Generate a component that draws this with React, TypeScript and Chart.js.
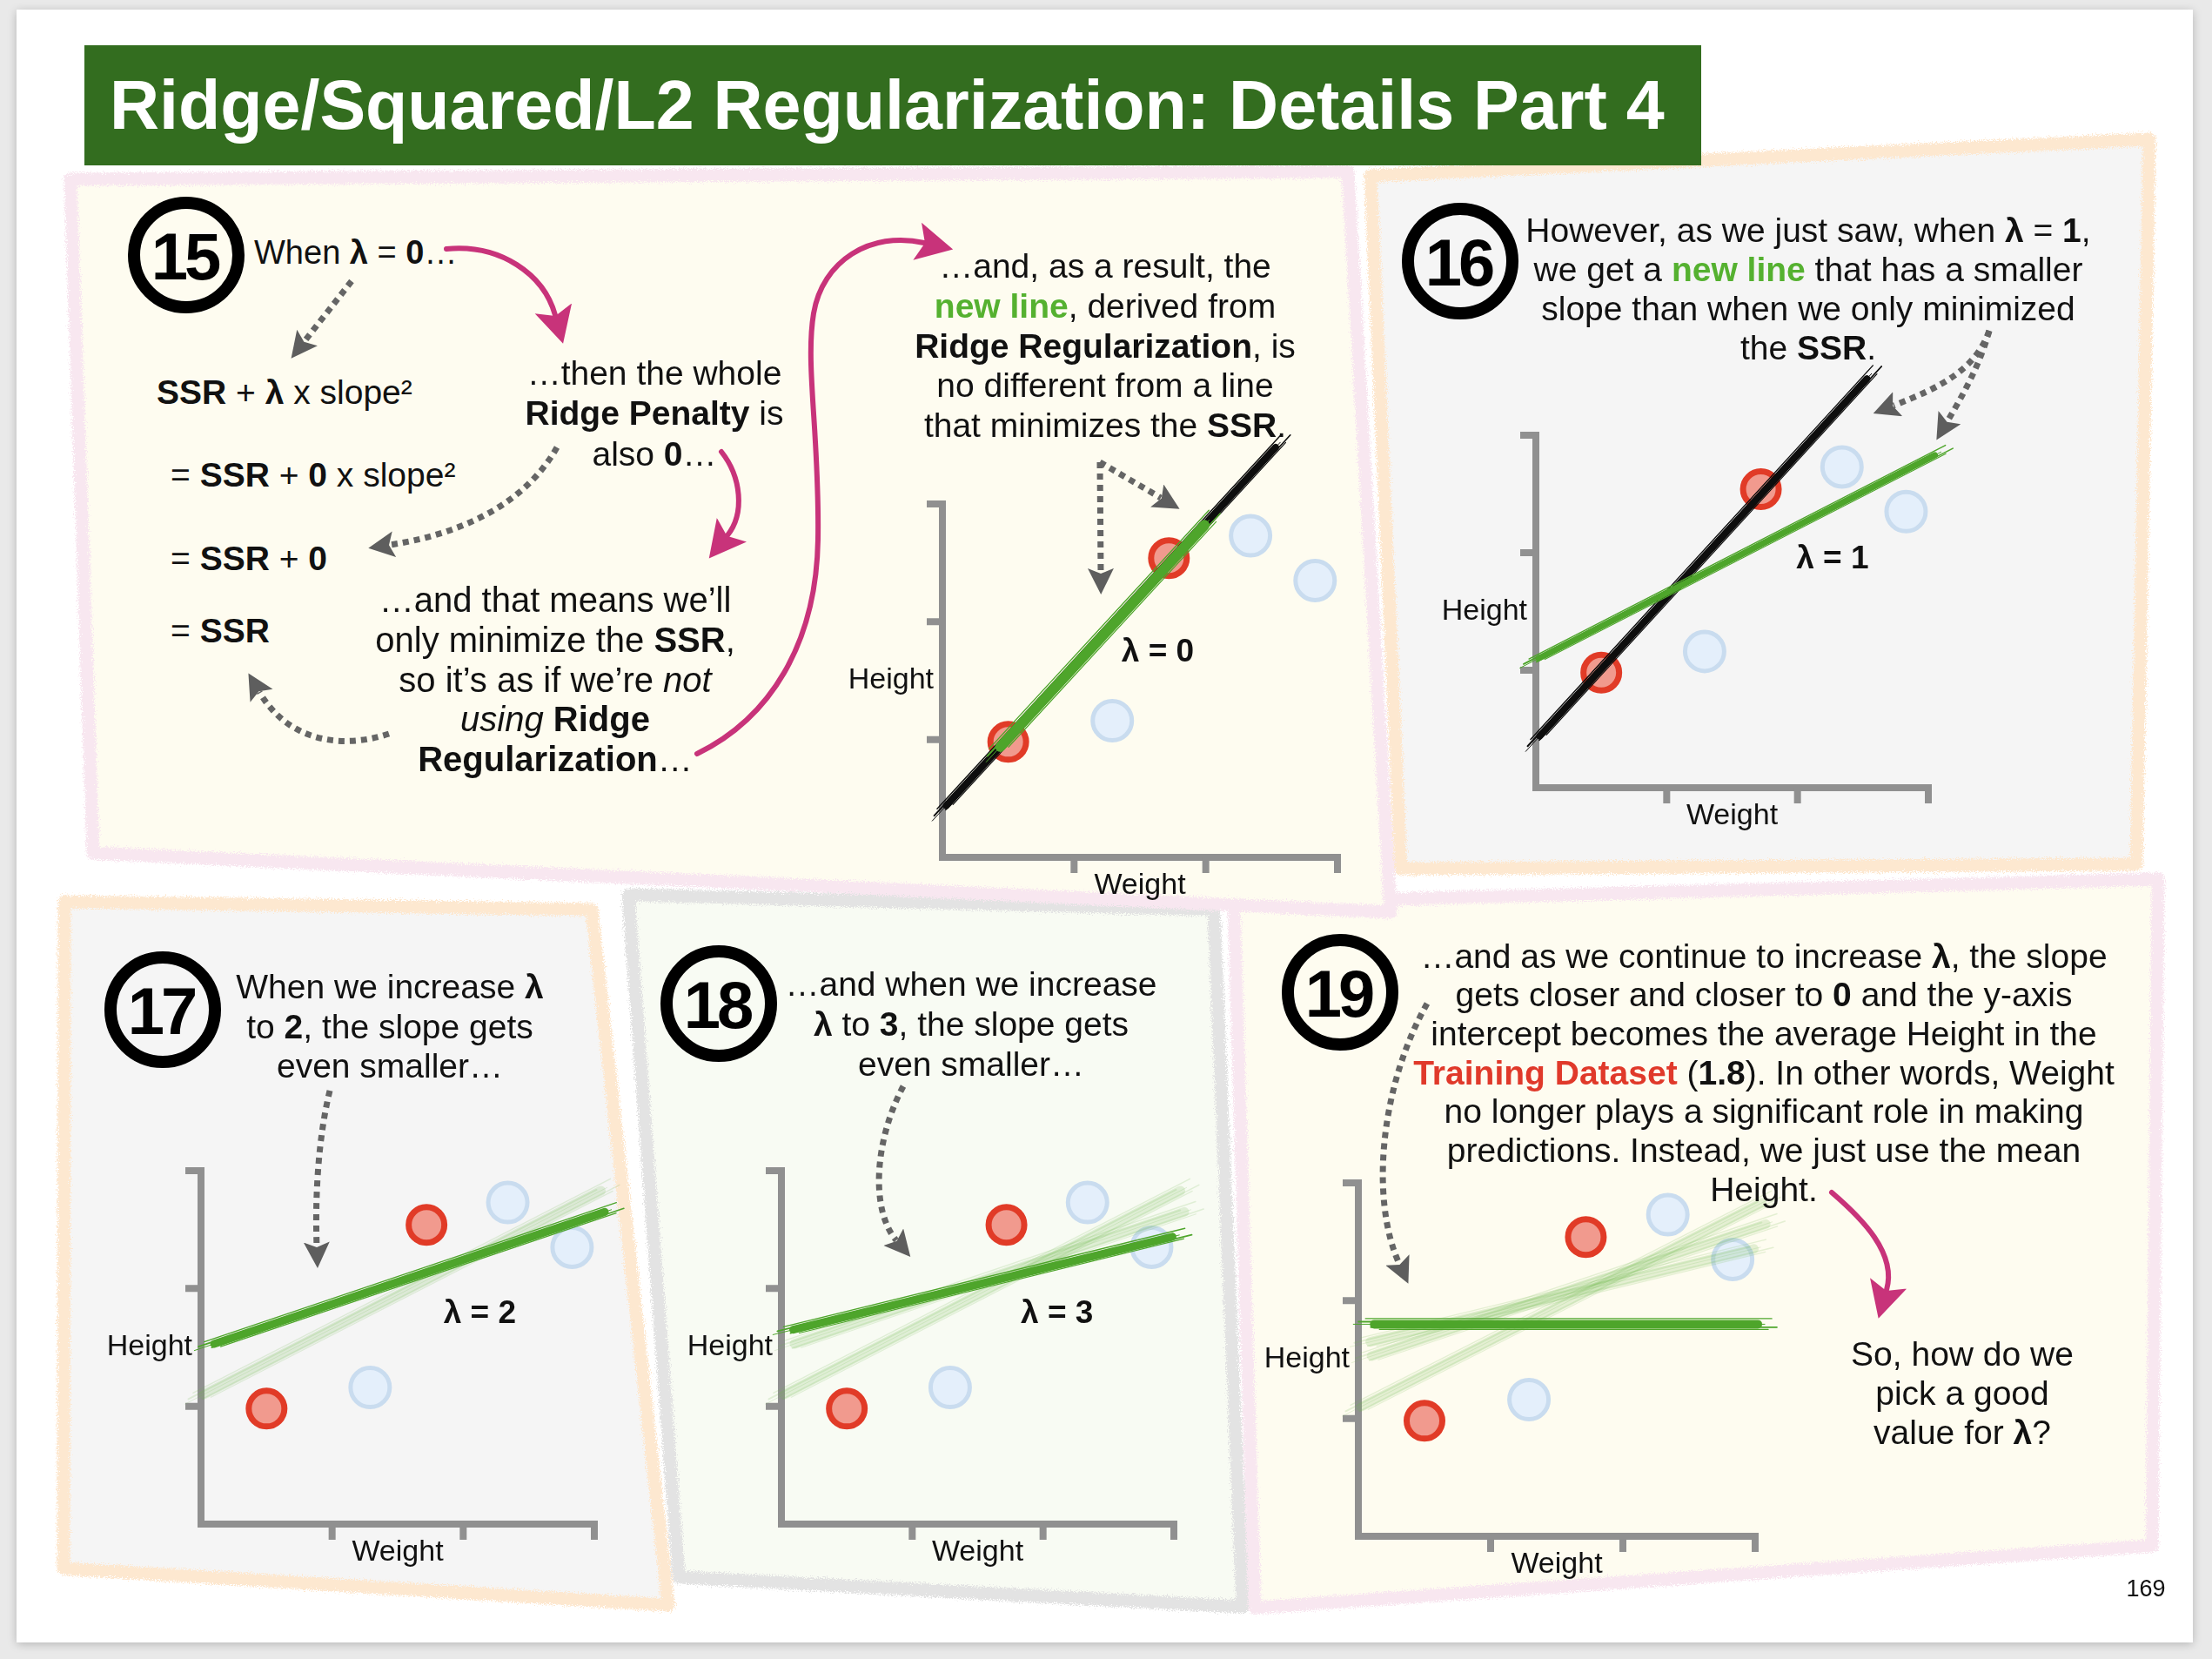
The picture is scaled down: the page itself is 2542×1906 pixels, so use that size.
import React, { useEffect, useRef } from 'react';
import { Chart, registerables } from 'chart.js';

Chart.register(...registerables);
if (typeof document !== 'undefined') document.body.style.margin = '0';

const FONT = "'Liberation Sans', Arial, Helvetica, sans-serif";

// ---------------- data ----------------
const TRAIN_WEIGHT = [0.5, 1.72];          // red points (training data)
const TRAIN_HEIGHT = [0.98, 2.54];
const TEST_WEIGHT = [1.29, 2.34, 2.83];    // blue points
const TEST_HEIGHT = [1.16, 2.73, 2.35];
const AXIS_RANGE = [0, 3];
const AXIS_TICKS = [1, 2, 3];

const LS_LINE_X = [0.03, 2.53];
const LS_LINE_Y = [0.44, 3.48];
const RIDGE0_X = [0.44, 1.99];
const RIDGE0_Y = [0.94, 2.82];
const RIDGE1_X = [0.02, 3.05];
const RIDGE1_Y = [1.1, 2.83];
const RIDGE2_X = [0.1, 3.08];
const RIDGE2_Y = [1.53, 2.65];
const RIDGE3_X = [0.09, 2.99];
const RIDGE3_Y = [1.65, 2.44];
const RIDGE_MAX_X = [0.12, 3.02];
const RIDGE_MAX_Y = [1.8, 1.8];

const LAMBDA_LABELS = ['λ = 0', 'λ = 1', 'λ = 2', 'λ = 3'];
const Y_TITLE = 'Height';
const X_TITLE = 'Weight';

// ---------------- styles / layout ----------------
const LINE_STYLES: any = {
  black: { color: '#0d0d0d', order: 2 },
  green: { color: '#4ea52b', order: 1 },
  pale: { color: 'rgba(110,185,80,0.18)', order: 3 },
};

type LineSpec = [string, number[], number[], number];
type ChartCfg = {
  id: number; x0: number; x3: number; y0: number; y3: number;
  lines: LineSpec[]; label: string | null; labelPos: number[];
};

const CHARTS: ChartCfg[] = [
  { id: 15, x0: 1083, x3: 1537, y0: 985, y3: 579,
    lines: [['black', LS_LINE_X, LS_LINE_Y, 8], ['green', RIDGE0_X, RIDGE0_Y, 12]],
    label: LAMBDA_LABELS[0], labelPos: [1.36, 1.74] },
  { id: 16, x0: 1765, x3: 2216, y0: 905, y3: 500,
    lines: [['black', LS_LINE_X, LS_LINE_Y, 8], ['green', RIDGE1_X, RIDGE1_Y, 7]],
    label: LAMBDA_LABELS[1], labelPos: [1.99, 1.94] },
  { id: 17, x0: 231, x3: 683, y0: 1751, y3: 1345,
    lines: [['pale', RIDGE1_X, RIDGE1_Y, 11], ['green', RIDGE2_X, RIDGE2_Y, 9]],
    label: LAMBDA_LABELS[2], labelPos: [1.85, 1.78] },
  { id: 18, x0: 898, x3: 1349, y0: 1751, y3: 1345,
    lines: [['pale', RIDGE1_X, RIDGE1_Y, 11], ['pale', RIDGE2_X, RIDGE2_Y, 11], ['green', RIDGE3_X, RIDGE3_Y, 9]],
    label: LAMBDA_LABELS[3], labelPos: [1.83, 1.78] },
  { id: 19, x0: 1561, x3: 2017, y0: 1765, y3: 1359,
    lines: [['pale', RIDGE1_X, RIDGE1_Y, 11], ['pale', RIDGE2_X, RIDGE2_Y, 11], ['pale', RIDGE3_X, RIDGE3_Y, 11], ['green', RIDGE_MAX_X, RIDGE_MAX_Y, 10]],
    label: null, labelPos: [0, 0] },
];

const AXIS_COLOR = '#909090';
const BRUSH_STROKES = [
  [-0.65, 1.4, 10, 16],
  [0.6, 1.2, -6, 12],
  [-0.3, 2.0, 18, -4],
  [0.35, 1.6, 4, 22],
  [0.0, 1.0, 24, 8],
];

function ScatterPanel({ cfg }: { cfg: ChartCfg }) {
  const ref = useRef<HTMLCanvasElement>(null);
  const left = cfg.x0 - 150;
  const top = cfg.y3 - 110;
  const w = cfg.x3 + 80 - left;
  const h = cfg.y0 + 65 - top;

  useEffect(() => {
    const canvas = ref.current;
    if (!canvas) return;
    const datasets: any[] = [];
    cfg.lines.forEach(([kind, xs, ys, width]) => {
      const st = LINE_STYLES[kind];
      datasets.push({
        data: xs.map((x, i) => ({ x, y: ys[i] })),
        showLine: true,
        borderColor: st.color,
        backgroundColor: st.color,
        borderWidth: width,
        borderCapStyle: 'round',
        pointRadius: 0,
        pointHoverRadius: 0,
        clip: false,
        order: st.order,
        brush: true,
      });
    });
    datasets.push({
      data: TRAIN_WEIGHT.map((x, i) => ({ x, y: TRAIN_HEIGHT[i] })),
      showLine: false,
      pointRadius: 20.5,
      pointHoverRadius: 20.5,
      borderWidth: 7,
      backgroundColor: '#f19a8e',
      borderColor: '#e13b27',
      clip: false,
      order: 10,
    });
    datasets.push({
      data: TEST_WEIGHT.map((x, i) => ({ x, y: TEST_HEIGHT[i] })),
      showLine: false,
      pointRadius: 22.5,
      pointHoverRadius: 22.5,
      borderWidth: 5,
      backgroundColor: '#e4effb',
      borderColor: '#c9dcef',
      clip: false,
      order: 11,
    });

    const axesPlugin = {
      id: 'sketchAxes',
      beforeDatasetsDraw(chart: any) {
        const { ctx, scales } = chart;
        const sx = scales.x, sy = scales.y;
        const x0 = sx.getPixelForValue(AXIS_RANGE[0]);
        const y0 = sy.getPixelForValue(AXIS_RANGE[0]);
        const xM = sx.getPixelForValue(AXIS_RANGE[1]);
        const yM = sy.getPixelForValue(AXIS_RANGE[1]);
        ctx.save();
        ctx.strokeStyle = AXIS_COLOR;
        ctx.lineWidth = 8;
        ctx.lineJoin = 'miter';
        ctx.lineCap = 'square';
        ctx.beginPath();
        ctx.moveTo(x0, yM);
        ctx.lineTo(x0, y0);
        ctx.lineTo(xM, y0);
        ctx.stroke();
        ctx.lineCap = 'butt';
        ctx.beginPath();
        AXIS_TICKS.forEach((t) => {
          const py = sy.getPixelForValue(t);
          ctx.moveTo(x0, py);
          ctx.lineTo(x0 - 18, py);
          const px = sx.getPixelForValue(t);
          ctx.moveTo(px, y0);
          ctx.lineTo(px, y0 + 18);
        });
        ctx.stroke();
        ctx.restore();
      },
    };

    const brushPlugin = {
      id: 'brush',
      afterDatasetDraw(chart: any, args: any) {
        const ds = chart.data.datasets[args.index];
        if (!ds.brush) return;
        const pts = args.meta.data;
        if (!pts || pts.length < 2) return;
        const a = pts[0], b = pts[pts.length - 1];
        const dx = b.x - a.x, dy = b.y - a.y;
        const len = Math.hypot(dx, dy) || 1;
        const ux = dx / len, uy = dy / len, nx = -uy, ny = ux;
        const wdt = ds.borderWidth;
        const ctx = chart.ctx;
        ctx.save();
        ctx.strokeStyle = ds.borderColor;
        ctx.lineCap = 'round';
        BRUSH_STROKES.forEach(([off, lw, s, e]) => {
          ctx.lineWidth = lw;
          ctx.beginPath();
          ctx.moveTo(a.x - ux * s + nx * off * wdt, a.y - uy * s + ny * off * wdt);
          ctx.lineTo(b.x + ux * e + nx * off * wdt, b.y + uy * e + ny * off * wdt);
          ctx.stroke();
        });
        ctx.restore();
      },
    };

    const textPlugin = {
      id: 'panelText',
      afterDatasetsDraw(chart: any) {
        const { ctx, scales } = chart;
        const sx = scales.x, sy = scales.y;
        ctx.save();
        ctx.fillStyle = '#111';
        ctx.textBaseline = 'middle';
        ctx.font = `34px ${FONT}`;
        ctx.textAlign = 'right';
        ctx.fillText(Y_TITLE, sx.getPixelForValue(0) - 10, sy.getPixelForValue(1.5));
        ctx.textAlign = 'center';
        ctx.fillText(X_TITLE, sx.getPixelForValue(1.5), sy.getPixelForValue(0) + 33);
        if (cfg.label) {
          ctx.font = `bold 37px ${FONT}`;
          ctx.textAlign = 'left';
          ctx.fillText(cfg.label, sx.getPixelForValue(cfg.labelPos[0]), sy.getPixelForValue(cfg.labelPos[1]));
        }
        ctx.restore();
      },
    };

    const chart = new Chart(canvas, {
      type: 'scatter',
      data: { datasets },
      options: {
        animation: false,
        responsive: false,
        maintainAspectRatio: false,
        devicePixelRatio: 1,
        events: [],
        layout: {
          padding: {
            left: cfg.x0 - left,
            right: left + w - cfg.x3,
            top: cfg.y3 - top,
            bottom: top + h - cfg.y0,
          },
        },
        scales: {
          x: { type: 'linear', min: AXIS_RANGE[0], max: AXIS_RANGE[1], display: false },
          y: { type: 'linear', min: AXIS_RANGE[0], max: AXIS_RANGE[1], display: false },
        },
        plugins: { legend: { display: false }, tooltip: { enabled: false } },
      } as any,
      plugins: [axesPlugin, brushPlugin, textPlugin],
    } as any);
    return () => chart.destroy();
  }, [cfg]);

  return (
    <canvas
      ref={ref}
      width={w}
      height={h}
      style={{ position: 'absolute', left, top, width: w, height: h, zIndex: 1 }}
    />
  );
}

// ---------------- decorations ----------------
const PANEL_SHAPES = [
  { pts: '722,1028 1395,1045 1428,1846 780,1812', fill: '#f8fbf3', stroke: '#e3e3e3' },
  { pts: '1418,1038 2480,1010 2473,1776 1442,1847', fill: '#fefcf0', stroke: '#f8e7f0' },
  { pts: '74,1036 680,1045 768,1844 73,1802', fill: '#f5f5f5', stroke: '#fde8d0' },
  { pts: '1575,202 2470,160 2455,993 1610,998', fill: '#f5f5f5', stroke: '#fde8d0' },
  { pts: '81,206 1549,197 1598,1048 107,980', fill: '#fefcf0', stroke: '#f8e7f0' },
];

function PanelsSvg() {
  return (
    <svg width={2542} height={1906} style={{ position: 'absolute', left: 0, top: 0, zIndex: 0 }}>
      <defs>
        <filter id="rough" x="-5%" y="-5%" width="110%" height="110%">
          <feTurbulence type="fractalNoise" baseFrequency="0.7" numOctaves="2" seed="4" result="noise" />
          <feDisplacementMap in="SourceGraphic" in2="noise" scale="11" xChannelSelector="R" yChannelSelector="G" />
        </filter>
      </defs>
      {PANEL_SHAPES.map((p, i) => (
        <g key={i}>
          <polygon points={p.pts} fill={p.fill} />
          <polygon points={p.pts} fill="none" stroke={p.stroke} strokeWidth={15} strokeLinejoin="round" filter="url(#rough)" />
        </g>
      ))}
    </svg>
  );
}

const GRAY_ARROWS = [
  'M 404 323 L 350 392',
  'M 640 514 C 600 585, 520 615, 448 626',
  'M 447 843 C 390 862, 330 850, 298 795',
  'M 1264 531 L 1265 658',
  'M 1264 531 L 1334 572',
  'M 2286 380 C 2270 425, 2230 445, 2176 466',
  'M 2286 380 C 2275 420, 2255 455, 2238 484',
  'M 379 1253 C 365 1310, 362 1380, 364 1432',
  'M 1038 1248 C 1005 1310, 1000 1390, 1030 1425',
  'M 1640 1153 C 1585 1250, 1575 1380, 1608 1452',
];
const MAGENTA_ARROWS = [
  'M 513 286 C 575 280, 625 315, 638 362',
  'M 829 519 C 852 548, 856 590, 836 615',
  'M 801 866 C 885 825, 938 740, 940 620 C 942 500, 925 420, 935 360 C 945 300, 1000 265, 1062 279',
  'M 2105 1370 C 2140 1400, 2180 1440, 2168 1482',
];

function ArrowsSvg() {
  return (
    <svg width={2542} height={1906} style={{ position: 'absolute', left: 0, top: 0, zIndex: 3, pointerEvents: 'none' }}>
      <defs>
        <marker id="gh" markerUnits="userSpaceOnUse" markerWidth="40" markerHeight="40" refX="5" refY="15" orient="auto">
          <path d="M0,0 L30,15 L0,30 L6,15 Z" fill="#5e5e5e" />
        </marker>
        <marker id="mh" markerUnits="userSpaceOnUse" markerWidth="50" markerHeight="50" refX="8" refY="22" orient="auto">
          <path d="M0,0 L42,22 L0,44 L9,22 Z" fill="#c8337a" />
        </marker>
      </defs>
      {GRAY_ARROWS.map((d, i) => (
        <path key={'g' + i} d={d} fill="none" stroke="#656565" strokeWidth={7} strokeDasharray="7 6" markerEnd="url(#gh)" />
      ))}
      {MAGENTA_ARROWS.map((d, i) => (
        <path key={'m' + i} d={d} fill="none" stroke="#c8337a" strokeWidth={6} strokeLinecap="round" markerEnd="url(#mh)" />
      ))}
    </svg>
  );
}

function NumberCircle({ cx, cy, n }: { cx: number; cy: number; n: string }) {
  const r = 67;
  return (
    <div
      style={{
        position: 'absolute', left: cx - r, top: cy - r, width: 2 * r, height: 2 * r,
        boxSizing: 'border-box', border: '14px solid #000', borderRadius: '50%',
        display: 'flex', alignItems: 'center', justifyContent: 'center',
        fontFamily: FONT, fontWeight: 700, fontSize: 76, letterSpacing: -4, color: '#000', zIndex: 2,
      }}
    >
      <span style={{ marginLeft: -4, marginTop: 2 }}>{n}</span>
    </div>
  );
}

type TBProps = { cx?: number; left?: number; cy: number; lh: number; size: number; lines: React.ReactNode[] };
function TextBlock({ cx, left, cy, lh, size, lines }: TBProps) {
  const style: React.CSSProperties = {
    position: 'absolute', top: cy - lh / 2, fontSize: size, lineHeight: `${lh}px`,
    color: '#111', whiteSpace: 'nowrap', zIndex: 2, fontFamily: FONT,
  };
  if (cx !== undefined) {
    style.left = cx - 700;
    style.width = 1400;
    style.textAlign = 'center';
  } else {
    style.left = left;
  }
  return (
    <div style={style}>
      {lines.map((l, i) => (
        <div key={i}>{l}</div>
      ))}
    </div>
  );
}

const G = ({ children }: { children: React.ReactNode }) => <b style={{ color: '#55b130' }}>{children}</b>;
const R = ({ children }: { children: React.ReactNode }) => <b style={{ color: '#e0392a' }}>{children}</b>;

const BODY = 39;

function Texts() {
  return (
    <>
      <TextBlock left={292} cy={290} lh={46} size={38} lines={[<>When <b>λ</b> = <b>0</b>…</>]} />
      <TextBlock left={180} cy={451} lh={46} size={39} lines={[<><b>SSR</b> + <b>λ</b> x slope²</>]} />
      <TextBlock left={196} cy={546} lh={46} size={39} lines={[<>= <b>SSR</b> + <b>0</b> x slope²</>]} />
      <TextBlock left={196} cy={642} lh={46} size={39} lines={[<>= <b>SSR</b> + <b>0</b></>]} />
      <TextBlock left={196} cy={725} lh={46} size={39} lines={[<>= <b>SSR</b></>]} />
      <TextBlock cx={752} cy={429} lh={46.5} size={BODY} lines={[
        <>…then the whole</>,
        <><b>Ridge Penalty</b> is</>,
        <>also <b>0</b>…</>,
      ]} />
      <TextBlock cx={638} cy={690} lh={45.7} size={BODY + 1} lines={[
        <>…and that means we’ll</>,
        <>only minimize the <b>SSR</b>,</>,
        <>so it’s as if we’re <i>not</i></>,
        <><i>using</i> <b>Ridge</b></>,
        <><b>Regularization</b>…</>,
      ]} />
      <TextBlock cx={1270} cy={306} lh={45.8} size={BODY} lines={[
        <>…and, as a result, the</>,
        <><G>new line</G>, derived from</>,
        <><b>Ridge Regularization</b>, is</>,
        <>no different from a line</>,
        <>that minimizes the <b>SSR</b>.</>,
      ]} />
      <TextBlock cx={2078} cy={264} lh={45} size={BODY} lines={[
        <>However, as we just saw, when <b>λ</b> = <b>1</b>,</>,
        <>we get a <G>new line</G> that has a smaller</>,
        <>slope than when we only minimized</>,
        <>the <b>SSR</b>.</>,
      ]} />
      <TextBlock cx={448} cy={1134} lh={45.5} size={BODY} lines={[
        <>When we increase <b>λ</b></>,
        <>to <b>2</b>, the slope gets</>,
        <>even smaller…</>,
      ]} />
      <TextBlock cx={1116} cy={1131} lh={46} size={BODY} lines={[
        <>…and when we increase</>,
        <><b>λ</b> to <b>3</b>, the slope gets</>,
        <>even smaller…</>,
      ]} />
      <TextBlock cx={2027} cy={1099} lh={44.7} size={BODY} lines={[
        <>…and as we continue to increase <b>λ</b>, the slope</>,
        <>gets closer and closer to <b>0</b> and the y-axis</>,
        <>intercept becomes the average Height in the</>,
        <><R>Training Dataset</R> (<b>1.8</b>). In other words, Weight</>,
        <>no longer plays a significant role in making</>,
        <>predictions. Instead, we just use the mean</>,
        <>Height.</>,
      ]} />
      <TextBlock cx={2255} cy={1555} lh={45} size={BODY} lines={[
        <>So, how do we</>,
        <>pick a good</>,
        <>value for <b>λ</b>?</>,
      ]} />
      <TextBlock cx={2466} cy={1825} lh={30} size={27} lines={[<>169</>]} />
    </>
  );
}

export default function App() {
  return (
    <div style={{ position: 'relative', width: 2542, height: 1906, background: '#e9e9e9', overflow: 'hidden', fontFamily: FONT }}>
      <div style={{ position: 'absolute', left: 19, top: 11, width: 2501, height: 1876, background: '#fff', boxShadow: '0 2px 10px rgba(0,0,0,0.22)' }} />
      <PanelsSvg />
      <div style={{ position: 'absolute', left: 97, top: 52, width: 1858, height: 138, background: '#336d1f', zIndex: 2 }}>
        <div style={{ position: 'absolute', left: 29, top: 0, height: 138, lineHeight: '138px', color: '#fff', fontWeight: 700, fontSize: 79, whiteSpace: 'nowrap', fontFamily: FONT }}>
          Ridge/Squared/L2 Regularization: Details Part 4
        </div>
      </div>
      {CHARTS.map((c) => (
        <ScatterPanel key={c.id} cfg={c} />
      ))}
      <NumberCircle cx={214} cy={293} n="15" />
      <NumberCircle cx={1678} cy={300} n="16" />
      <NumberCircle cx={187} cy={1160} n="17" />
      <NumberCircle cx={826} cy={1153} n="18" />
      <NumberCircle cx={1540} cy={1140} n="19" />
      <Texts />
      <ArrowsSvg />
    </div>
  );
}
